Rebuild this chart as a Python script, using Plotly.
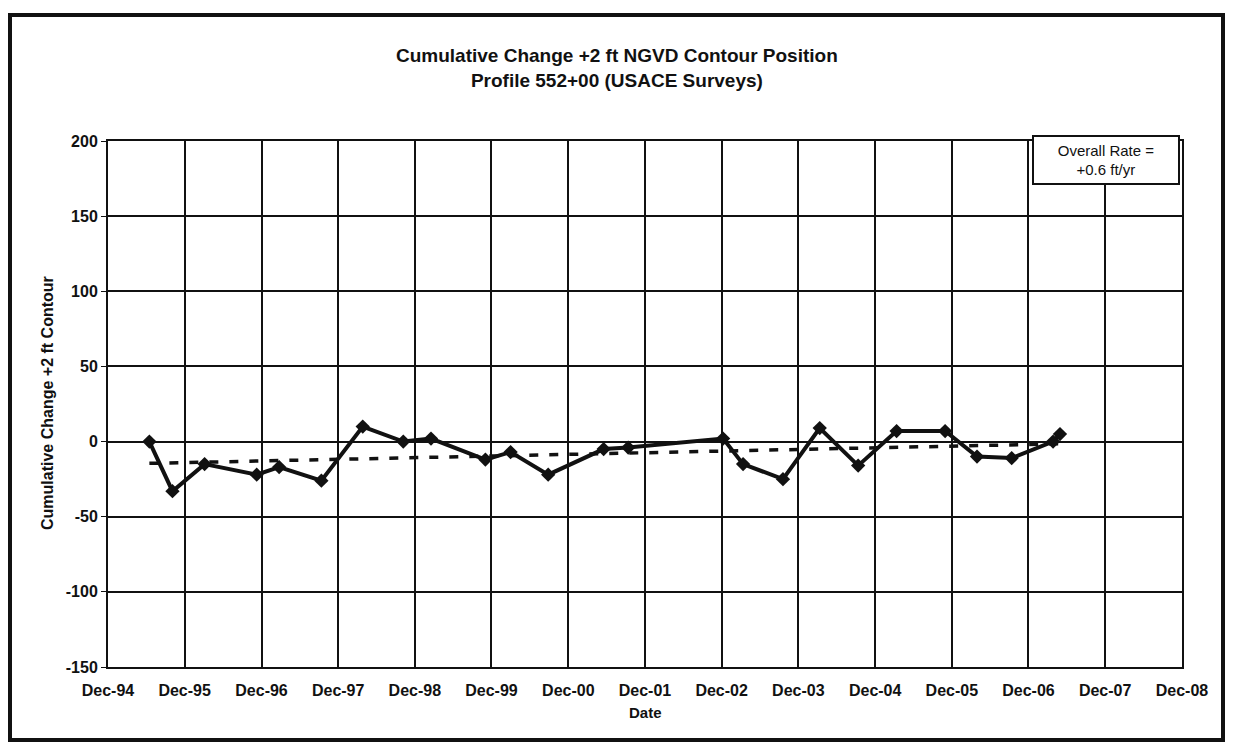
import plotly.graph_objects as go

# survey dates and cumulative change of the +2 ft NGVD contour (ft)
survey_dates = [
    "1995-06-16", "1995-10-04", "1996-03-05", "1996-11-08", "1997-02-23",
    "1997-09-12", "1998-03-28", "1998-10-07", "1999-02-16", "1999-11-02",
    "2000-03-01", "2000-08-27", "2001-05-18", "2001-09-12", "2002-12-08",
    "2003-03-13", "2003-09-19", "2004-03-12", "2004-09-11", "2005-03-13",
    "2005-10-30", "2006-03-31", "2006-09-12", "2007-03-28", "2007-04-30",
]
cum_change = [
    0, -33, -15, -22, -17,
    -26, 10, 0, 2, -12,
    -7, -22, -5, -4, 2,
    -15, -25, 9, -16, 7,
    7, -10, -11, 0, 5,
]

# linear trend
trend_dates = ["1995-06-16", "2007-04-30"]
trend_values = [-14.5, -1.5]

tick_dates = ["1994-12-01", "1995-12-01", "1996-12-01", "1997-12-01", "1998-12-01",
              "1999-12-01", "2000-12-01", "2001-12-01", "2002-12-01", "2003-12-01",
              "2004-12-01", "2005-12-01", "2006-12-01", "2007-12-01", "2008-12-01"]
tick_labels = ["Dec-94", "Dec-95", "Dec-96", "Dec-97", "Dec-98", "Dec-99", "Dec-00",
               "Dec-01", "Dec-02", "Dec-03", "Dec-04", "Dec-05", "Dec-06", "Dec-07", "Dec-08"]
y_ticks = [-150, -100, -50, 0, 50, 100, 150, 200]
y_labels = ["-150", "-100", "-50", "0", "50", "100", "150", "200"]

FONT = "Liberation Sans, Arial, sans-serif"
INK = "#111111"

# page body adds 8 px around the figure, so work in screen px minus 8
OFF = 8
W, H = 1234 - 2 * OFF, 750 - 2 * OFF
L, R, T, B = 108 - OFF, 1182 - OFF, 141 - OFF, 667 - OFF


def px(xs):
    return (xs - OFF - L) / (R - L)


def py(ys):
    return (B - (ys - OFF)) / (B - T)


def note(x, y, text, size, **kw):
    fig.add_annotation(xref="paper", yref="paper", x=px(x), y=py(y), showarrow=False,
                       xanchor="center", yanchor="middle", text=text,
                       font=dict(family=FONT, size=size, color=INK), **kw)


fig = go.Figure()

fig.add_trace(go.Scatter(
    x=trend_dates, y=trend_values, mode="lines", showlegend=False,
    line=dict(color=INK, width=3.5, dash="9px,11px"),
))
fig.add_trace(go.Scatter(
    x=survey_dates, y=cum_change, mode="lines+markers", showlegend=False,
    line=dict(color=INK, width=4),
    marker=dict(symbol="diamond", size=11, color=INK),
))

# outer chart border
fig.add_shape(type="rect", xref="paper", yref="paper",
              x0=px(10), x1=px(1223), y0=py(740), y1=py(15),
              line=dict(color=INK, width=4))

note(617, 68, "<b>Cumulative Change +2 ft NGVD Contour Position<br>Profile 552+00 (USACE Surveys)</b>",
     19, align="center")
note(1106, 160, "Overall Rate =<br>+0.6 ft/yr", 15, align="center",
     bordercolor=INK, borderwidth=2, bgcolor="white", width=142, height=44)
note(47, 403, "<b>Cumulative Change +2 ft Contour</b>", 16, textangle=-90)
note(645, 712, "<b>Date</b>", 15)

fig.update_layout(
    width=W, height=H,
    margin=dict(l=L, r=W - R, t=T, b=H - B),
    paper_bgcolor="white", plot_bgcolor="white",
    font=dict(family=FONT, color=INK),
)
fig.update_xaxes(
    type="date", range=[tick_dates[0], tick_dates[-1]],
    tickmode="array", tickvals=tick_dates, ticktext=[f"<b>{t}</b>" for t in tick_labels],
    tickfont=dict(size=16, family=FONT, color=INK),
    showgrid=True, gridcolor=INK, gridwidth=1.5,
    showline=True, linecolor=INK, linewidth=2, mirror=True,
    ticks="", ticklabelstandoff=8,
    zeroline=False,
)
fig.update_yaxes(
    range=[-150, 200],
    tickmode="array", tickvals=y_ticks, ticktext=[f"<b>{t}</b>" for t in y_labels],
    tickfont=dict(size=16, family=FONT, color=INK),
    showgrid=True, gridcolor=INK, gridwidth=1.5,
    showline=True, linecolor=INK, linewidth=2, mirror=True,
    ticks="outside", ticklen=5, tickcolor=INK,
    zeroline=False,
)

fig.write_html("out.html")
